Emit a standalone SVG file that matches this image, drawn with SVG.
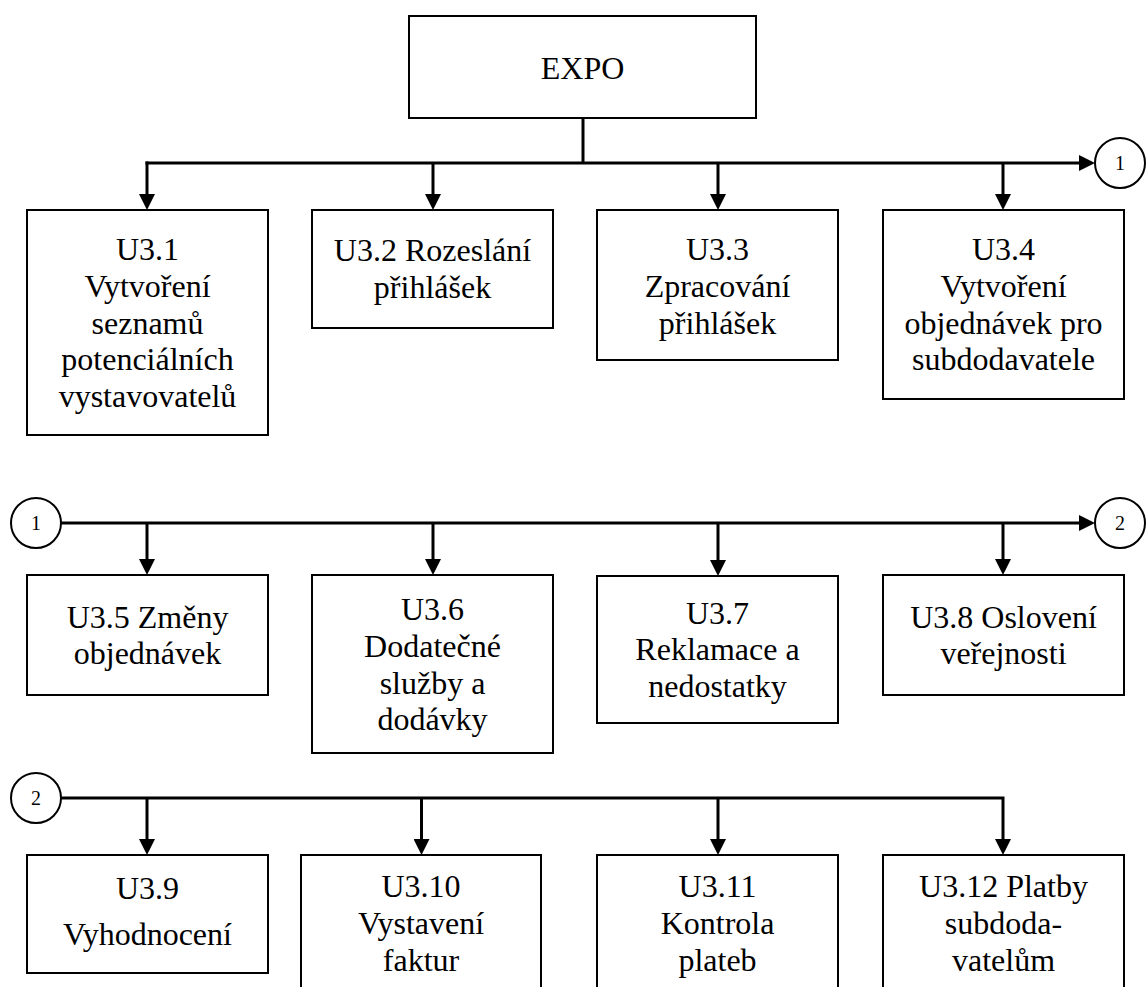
<svg xmlns="http://www.w3.org/2000/svg" width="1147" height="987" viewBox="0 0 1147 987">
<style>
.box{fill:#fff;stroke:#000;stroke-width:2}
.t{font-family:'Liberation Serif','DejaVu Serif',serif;font-size:32px;fill:#000;text-anchor:middle}
.c{fill:#fff;stroke:#000;stroke-width:2}
.ct{font-family:'Liberation Serif','DejaVu Serif',serif;font-size:20px;fill:#000;text-anchor:middle}
.ln{fill:none;stroke:#000;stroke-width:3}
</style>
<defs>
<marker id="ah" markerUnits="userSpaceOnUse" markerWidth="16" markerHeight="16" refX="4" refY="8" orient="auto">
<path d="M0,0 L16,8 L0,16 z" fill="#000"/>
</marker>
</defs>
<rect width="1147" height="987" fill="#fff"/>
<g id="connectors">
<path class="ln" d="M583,118 V163"/>
<path class="ln" d="M145.5,163 H1083" marker-end="url(#ah)"/>
<path class="ln" d="M147,161.5 V198" marker-end="url(#ah)"/>
<path class="ln" d="M433,163 V198" marker-end="url(#ah)"/>
<path class="ln" d="M718,163 V198" marker-end="url(#ah)"/>
<path class="ln" d="M1003,163 V198" marker-end="url(#ah)"/>
<path class="ln" d="M61,523 H1083" marker-end="url(#ah)"/>
<path class="ln" d="M147,523 V563" marker-end="url(#ah)"/>
<path class="ln" d="M433,523 V563" marker-end="url(#ah)"/>
<path class="ln" d="M718,523 V564" marker-end="url(#ah)"/>
<path class="ln" d="M1003,523 V563" marker-end="url(#ah)"/>
<path class="ln" d="M61,798 H1003 V843" marker-end="url(#ah)"/>
<path class="ln" d="M147,798 V843" marker-end="url(#ah)"/>
<path class="ln" d="M421.5,798 V843" marker-end="url(#ah)"/>
<path class="ln" d="M718,798 V843" marker-end="url(#ah)"/>
</g>
<g id="expo">
<rect class="box" x="409" y="16" width="347" height="102"/>
<text class="t" x="582.5" y="79">EXPO</text>
</g>
<g id="c1a"><circle class="c" cx="1120" cy="163" r="25"/><text class="ct" x="1120" y="170">1</text></g>
<g id="c1b"><circle class="c" cx="36" cy="523" r="25"/><text class="ct" x="36" y="530">1</text></g>
<g id="c2a"><circle class="c" cx="1120" cy="523" r="25"/><text class="ct" x="1120" y="530">2</text></g>
<g id="c2b"><circle class="c" cx="36" cy="798" r="25"/><text class="ct" x="36" y="805">2</text></g>
<g id="u31">
<rect class="box" x="27" y="210" width="241" height="225"/>
<text class="t" x="147.5" y="260">U3.1</text>
<text class="t" x="147.5" y="296.8">Vytvoření</text>
<text class="t" x="147.5" y="333.6">seznamů</text>
<text class="t" x="147.5" y="370.4">potenciálních</text>
<text class="t" x="147.5" y="407.2">vystavovatelů</text>
</g>
<g id="u32">
<rect class="box" x="312" y="210" width="241" height="118"/>
<text class="t" x="432.5" y="261">U3.2 Rozeslání</text>
<text class="t" x="432.5" y="298">přihlášek</text>
</g>
<g id="u33">
<rect class="box" x="597" y="210" width="241" height="150"/>
<text class="t" x="717.5" y="260">U3.3</text>
<text class="t" x="717.5" y="296.8">Zpracování</text>
<text class="t" x="717.5" y="333.6">přihlášek</text>
</g>
<g id="u34">
<rect class="box" x="883" y="210" width="241" height="189"/>
<text class="t" x="1003.5" y="260">U3.4</text>
<text class="t" x="1003.5" y="296.8">Vytvoření</text>
<text class="t" x="1003.5" y="333.6">objednávek pro</text>
<text class="t" x="1003.5" y="370.4">subdodavatele</text>
</g>
<g id="u35">
<rect class="box" x="27" y="575" width="241" height="120"/>
<text class="t" x="147.5" y="627.5">U3.5 Změny</text>
<text class="t" x="147.5" y="664.3">objednávek</text>
</g>
<g id="u36">
<rect class="box" x="312" y="575" width="241" height="178"/>
<text class="t" x="432.5" y="620">U3.6</text>
<text class="t" x="432.5" y="656.8">Dodatečné</text>
<text class="t" x="432.5" y="693.6">služby a</text>
<text class="t" x="432.5" y="730.4">dodávky</text>
</g>
<g id="u37">
<rect class="box" x="597" y="576" width="241" height="147"/>
<text class="t" x="717.5" y="623.5">U3.7</text>
<text class="t" x="717.5" y="660.3">Reklamace a</text>
<text class="t" x="717.5" y="697.1">nedostatky</text>
</g>
<g id="u38">
<rect class="box" x="883" y="575" width="241" height="120"/>
<text class="t" x="1003.5" y="627.5">U3.8 Oslovení</text>
<text class="t" x="1003.5" y="664.3">veřejnosti</text>
</g>
<g id="u39">
<rect class="box" x="27" y="855" width="241" height="118"/>
<text class="t" x="147.5" y="899">U3.9</text>
<text class="t" x="147.5" y="945">Vyhodnocení</text>
</g>
<g id="u310">
<rect class="box" x="301" y="855" width="240" height="150"/>
<text class="t" x="421" y="897">U3.10</text>
<text class="t" x="421" y="934">Vystavení</text>
<text class="t" x="421" y="971">faktur</text>
</g>
<g id="u311">
<rect class="box" x="597" y="855" width="241" height="150"/>
<text class="t" x="717.5" y="897">U3.11</text>
<text class="t" x="717.5" y="934">Kontrola</text>
<text class="t" x="717.5" y="971">plateb</text>
</g>
<g id="u312">
<rect class="box" x="883" y="855" width="241" height="150"/>
<text class="t" x="1003.5" y="897">U3.12 Platby</text>
<text class="t" x="1003.5" y="934">subdoda-</text>
<text class="t" x="1003.5" y="971">vatelům</text>
</g>
</svg>
